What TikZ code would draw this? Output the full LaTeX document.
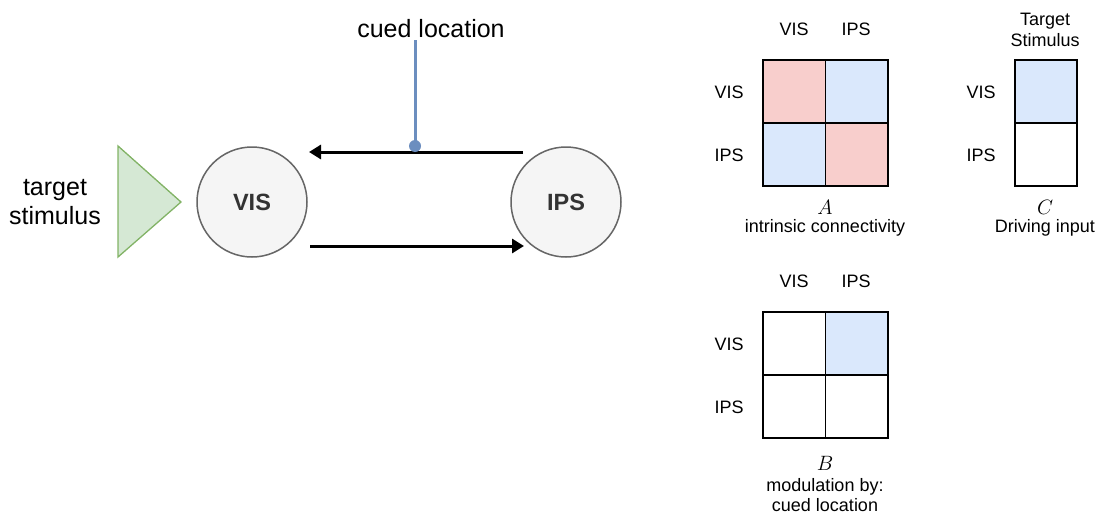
\documentclass[tikz,border=0pt]{standalone}
\usepackage{fontspec}
\setmainfont{Liberation Sans}
\usetikzlibrary{arrows.meta}
\definecolor{circfill}{HTML}{F5F5F5}
\definecolor{circdraw}{HTML}{666666}
\definecolor{circtext}{HTML}{333333}
\definecolor{trifill}{HTML}{D5E8D4}
\definecolor{tridraw}{HTML}{82B366}
\definecolor{cuecol}{HTML}{6C8EBF}
\definecolor{redcell}{HTML}{F8CECC}
\definecolor{bluecell}{HTML}{DAE8FC}
\tikzset{
  region/.style={circle, draw=circdraw, line width=1.5pt, fill=circfill, minimum size=110pt, inner sep=0pt,
    font=\fontsize{23.5}{28}\selectfont\bfseries, text=circtext},
  bigtext/.style={font=\fontsize{25}{29}\selectfont, align=center, inner sep=0pt},
  lbl/.style={font=\fontsize{18}{21}\selectfont, align=center, inner sep=0pt},
  mathlbl/.style={font=\fontsize{22}{24}\selectfont, inner sep=0pt},
  cell/.style={draw=black, line width=1.7pt, minimum width=62.5pt, minimum height=63pt, inner sep=0pt},
  conn/.style={line width=3pt, -{Triangle[length=12pt,width=14pt]}},
}
\begin{document}
\begin{tikzpicture}[x=1pt,y=-1pt]
\useasboundingbox (0,0) rectangle (1099,514);
% left diagram
\node[region] (VIS) at (252,202) {VIS};
\node[region] (IPS) at (566,202) {IPS};
\coordinate (triTop) at (118,146);
\coordinate (triBot) at (118,257);
\coordinate (triTip) at (181,202);
\draw[fill=trifill, draw=tridraw, line width=1.3pt, line join=miter] (triTop) -- (triTip) -- (triBot) -- cycle;
\node[bigtext] (stim) at (55,202) {target\\stimulus};
\coordinate (fbStart) at (523,152);
\coordinate (fbEnd) at (309,152);
\coordinate (ffStart) at (310,246);
\coordinate (ffEnd) at (524,246);
\draw[conn] (fbStart) -- (fbEnd);
\draw[conn] (ffStart) -- (ffEnd);
\node[bigtext] (cue) at (431,29) {cued location};
\coordinate (cueDot) at (415,146);
\draw[cuecol, line width=3pt] (415,40) -- (cueDot);
\fill[cuecol] (cueDot) circle (6pt);
% matrix A
\node[cell, fill=redcell] (A11) at (794.25,91.5) {};
\node[cell, fill=bluecell] (A12) at (856.75,91.5) {};
\node[cell, fill=bluecell] (A21) at (794.25,154.5) {};
\node[cell, fill=redcell] (A22) at (856.75,154.5) {};
\node[lbl] (Ac1) at (794,29) {VIS};
\node[lbl] (Ac2) at (856,29) {IPS};
\node[lbl] (Ar1) at (729,92) {VIS};
\node[lbl] (Ar2) at (729,155) {IPS};
\node[mathlbl] (Aname) at (825,207) {$A$};
\node[lbl] (Adesc) at (825,228) {intrinsic connectivity};
% matrix C
\node[cell, fill=bluecell, minimum width=62pt] (C1) at (1046,91.5) {};
\node[cell, fill=white, minimum width=62pt] (C2) at (1046,154.5) {};
\node[lbl] (Ccol) at (1045,30) {Target\\Stimulus};
\node[lbl] (Cr1) at (981,92) {VIS};
\node[lbl] (Cr2) at (981,155) {IPS};
\node[mathlbl] (Cname) at (1045,207) {$C$};
\node[lbl] (Cdesc) at (1045,228) {Driving input};
% matrix B
\node[cell, fill=white] (B11) at (794.25,343.5) {};
\node[cell, fill=bluecell] (B12) at (856.75,343.5) {};
\node[cell, fill=white] (B21) at (794.25,406.5) {};
\node[cell, fill=white] (B22) at (856.75,406.5) {};
\node[lbl] (Bc1) at (794,281) {VIS};
\node[lbl] (Bc2) at (856,281) {IPS};
\node[lbl] (Br1) at (729,344) {VIS};
\node[lbl] (Br2) at (729,407) {IPS};
\node[mathlbl] (Bname) at (825,463) {$B$};
\node[lbl, font=\fontsize{18}{20}\selectfont] (Bdesc) at (825,495) {modulation by:\\cued location};
\end{tikzpicture}
\end{document}
